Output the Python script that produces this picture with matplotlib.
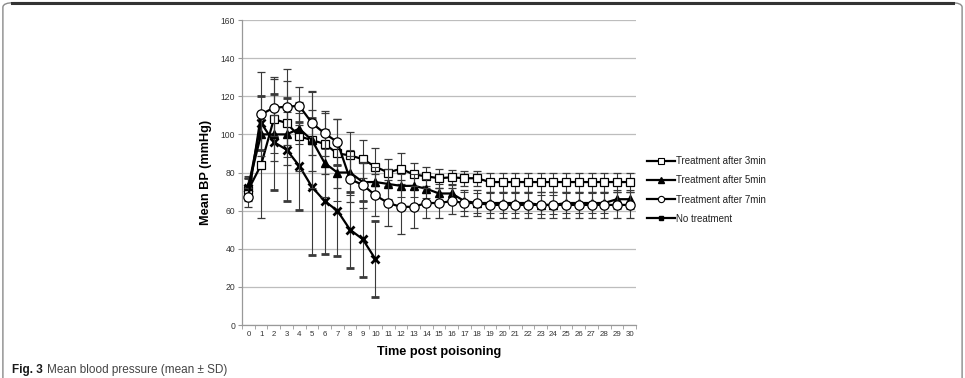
import matplotlib
matplotlib.use('Agg')
import matplotlib.pyplot as plt
from matplotlib.lines import Line2D
from matplotlib.patches import FancyBboxPatch
import numpy as np

plt.rcParams['font.family'] = ['Liberation Sans', 'DejaVu Sans']

# time points (minutes post poisoning)
time = list(range(31))
time_none = list(range(11))

# mean BP and SD per group
bp_3min = [71, 84, 108, 106, 99, 97, 95, 90, 89, 87, 83, 80, 82, 79, 78, 77,
           77.5, 77, 77, 75, 75, 75, 75, 75, 75, 75, 75, 75, 75, 75, 75]
sd_3min = [6, 28, 22, 22, 18, 16, 16, 18, 12, 10, 10, 7, 8, 6, 5, 5,
           4, 4, 4, 5, 5, 5, 5, 5, 5, 5, 5, 5, 5, 5, 5]

bp_5min = [73, 100, 100, 100, 103, 97, 85, 80, 80, 75, 75, 74, 73, 73, 71.5, 69,
           69, 65, 64, 64, 64, 64, 64, 63, 63, 64, 64, 64, 64, 66, 66]
sd_5min = [5, 8, 10, 12, 8, 25, 18, 15, 12, 10, 8, 8, 6, 6, 5, 5,
           5, 5, 5, 5, 5, 5, 5, 5, 5, 5, 5, 5, 5, 5, 5]

bp_7min = [67, 110.5, 114, 114.5, 115, 106, 100.5, 96, 76.5, 73.5, 68, 64, 62, 62, 64, 64,
           65, 64, 64, 63, 63, 63, 63, 63, 63, 63, 63, 63, 63, 63, 63]
sd_7min = [5, 22, 15, 20, 10, 17, 12, 12, 12, 12, 11, 12, 14, 11, 8, 8,
           7, 7, 7, 7, 7, 7, 7, 7, 7, 7, 7, 7, 7, 7, 7]

bp_none = [72, 106, 96, 92, 83.5, 72.5, 65, 60, 50, 45, 34.5]
sd_none = [5, 14, 25, 27, 23, 36, 28, 24, 20, 20, 20]

labels = ['Treatment after 3min', 'Treatment after 5min',
          'Treatment after 7min', 'No treatment']

fig = plt.figure(figsize=(9.65, 3.78), dpi=100)
ax = fig.add_axes([0.2508, 0.1402, 0.4083, 0.8068])

err_kw = dict(ecolor='#3a3a3a', elinewidth=0.8, capsize=2.6, capthick=0.8)
lw = 1.6

ax.errorbar(time_none, bp_none, yerr=sd_none, color='black', lw=lw, marker='x',
            ms=6, mew=2, zorder=3, **err_kw)
ax.errorbar(time, bp_3min, yerr=sd_3min, color='black', lw=lw, marker='s',
            ms=6.3, mfc='white', mec='black', mew=0.9, zorder=4, **err_kw)
ax.errorbar(time, bp_5min, yerr=sd_5min, color='black', lw=lw, marker='^',
            ms=6, mfc='black', mec='black', zorder=5, **err_kw)
ax.errorbar(time, bp_7min, yerr=sd_7min, color='black', lw=lw, marker='o',
            ms=6.7, mfc='white', mec='black', mew=0.9, zorder=6, **err_kw)

ax.set_xlim(-0.5, 30.5)
ax.set_ylim(0, 160)
ax.set_yticks(np.arange(0, 161, 20))
ax.set_xticks(time)
ax.set_xticks(np.arange(-0.5, 31, 1), minor=True)
ax.tick_params(axis='x', which='major', length=0, labelsize=5.7, pad=4, colors='#333')
ax.tick_params(axis='x', which='minor', length=3, color='#999')
ax.tick_params(axis='y', length=3, color='#999', labelsize=6.2, labelcolor='#333', pad=2)
ax.grid(axis='y', color='#bdbdbd', lw=0.9)
ax.set_axisbelow(True)
for s in ['top', 'right']:
    ax.spines[s].set_visible(False)
for s in ['left', 'bottom']:
    ax.spines[s].set_color('#999')
    ax.spines[s].set_linewidth(0.9)

ax.set_xlabel('Time post poisoning', fontsize=9.2, fontweight='bold', labelpad=6)
ax.set_ylabel('Mean BP (mmHg)', fontsize=9.2, fontweight='bold', labelpad=6)

handles = [
    Line2D([], [], color='black', lw=lw, marker='s', ms=4.5, mfc='white', mec='black', mew=0.8),
    Line2D([], [], color='black', lw=lw, marker='^', ms=4.5, mfc='black'),
    Line2D([], [], color='black', lw=lw, marker='o', ms=4.5, mfc='white', mec='black', mew=0.8),
    Line2D([], [], color='black', lw=lw, marker='s', ms=3.5, mfc='black'),
]
fig.legend(handles, labels, loc='upper left', bbox_to_anchor=(0.661, 0.61),
           frameon=False, fontsize=7, handlelength=2.9, handletextpad=0.15,
           labelspacing=0.95, labelcolor='#222')

# rounded panel border
border = FancyBboxPatch((0.003, -0.05), 0.994, 1.043,
                        boxstyle='round,pad=0,rounding_size=0.012',
                        transform=fig.transFigure, fill=False,
                        edgecolor='#8a8a8a', lw=1.0)
fig.patches.append(border)
fig.add_artist(Line2D([0.012, 0.988], [0.993, 0.993], color='#333', lw=2.2,
                      transform=fig.transFigure))

# caption at the bottom edge
fig.text(0.012, 0.006, 'Fig. 3', fontsize=8.5, fontweight='bold', color='#1a1a1a',
         va='bottom', ha='left')
fig.text(0.049, 0.006, 'Mean blood pressure (mean \u00b1 SD)', fontsize=8.5,
         color='#444', va='bottom', ha='left')

fig.savefig('out.png', dpi=100)
